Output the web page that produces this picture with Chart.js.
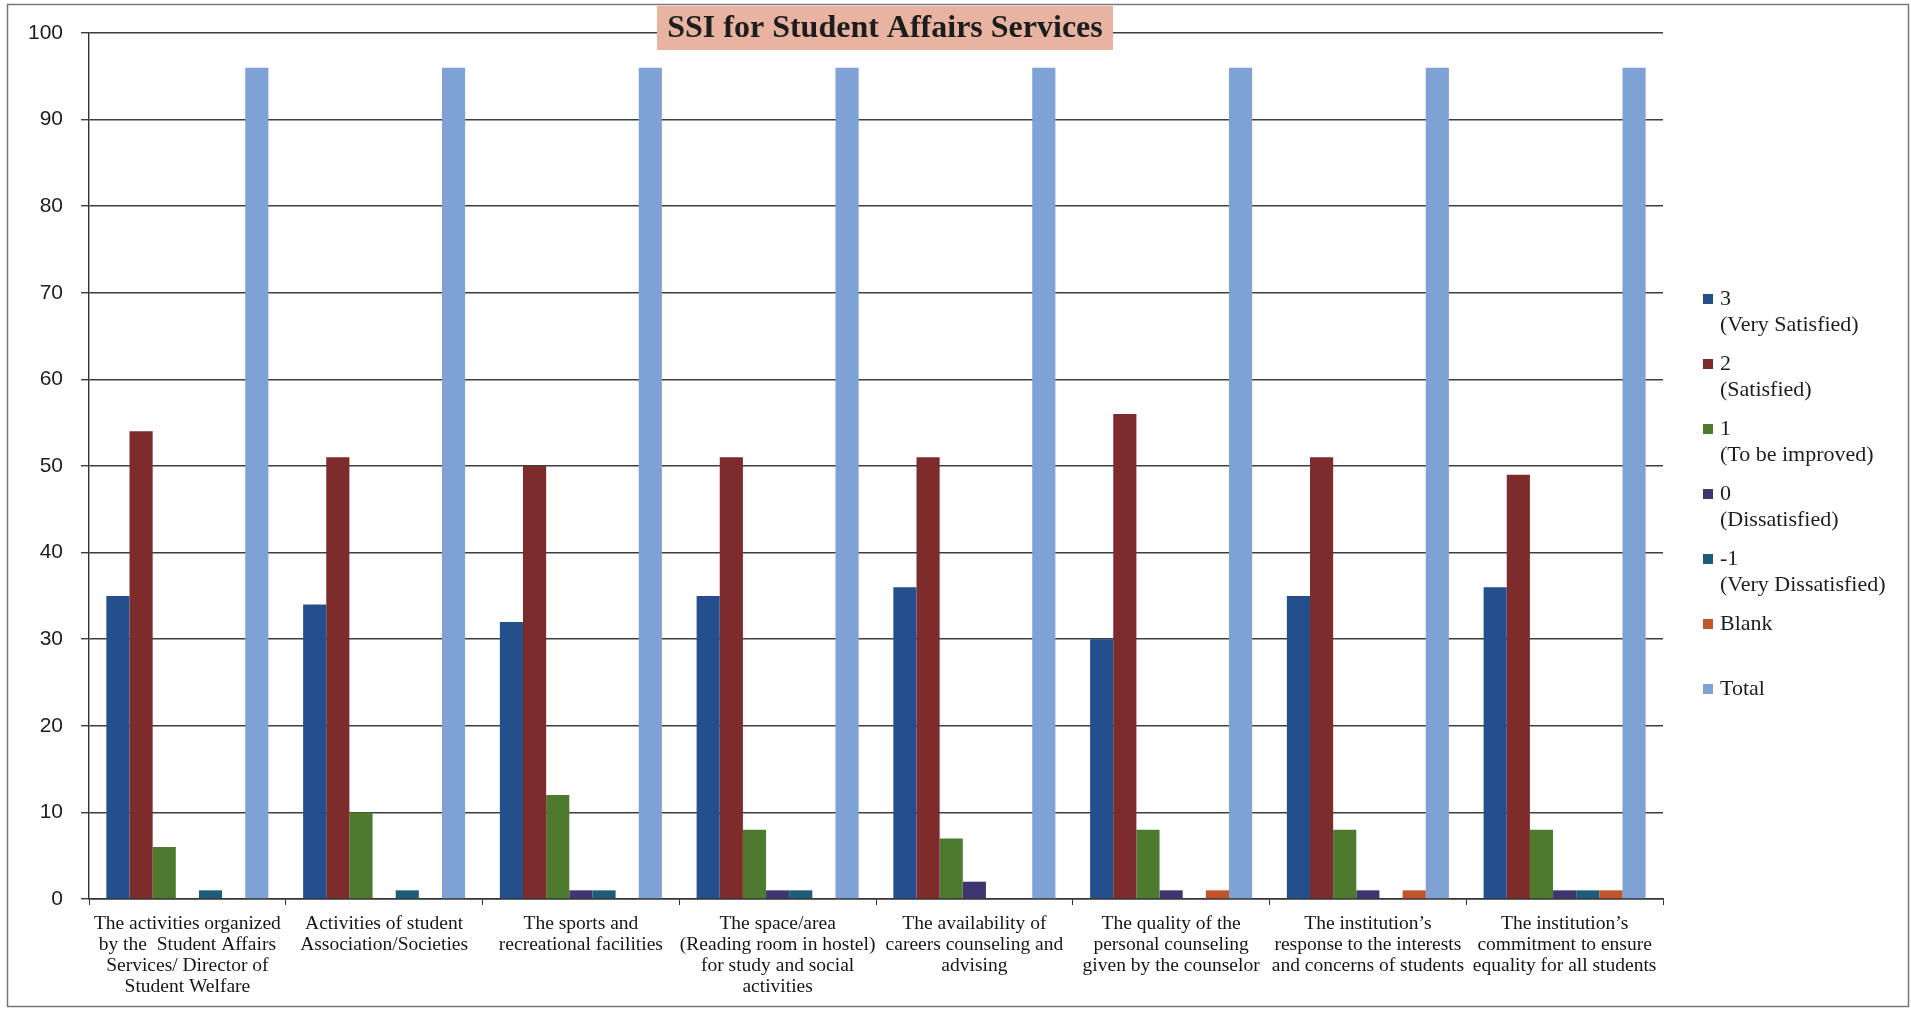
<!DOCTYPE html>
<html>
<head>
<meta charset="utf-8">
<title>SSI for Student Affairs Services</title>
<script src="https://cdn.jsdelivr.net/npm/chart.js@4/dist/chart.umd.min.js"></script>
<style>
  html, body { margin: 0; padding: 0; background: #fff; }
  #wrap { width: 1911px; height: 1009px; }
</style>
</head>
<body>
<div id="wrap"><canvas id="ssi-chart" width="1911" height="1009"></canvas></div>
<script>
const chartTitle = 'SSI for Student Affairs Services';

const categories = [
    ['The activities organized', 'by the  Student Affairs', 'Services/ Director of', 'Student Welfare'],
    ['Activities of student', 'Association/Societies'],
    ['The sports and', 'recreational facilities'],
    ['The space/area', '(Reading room in hostel)', 'for study and social', 'activities'],
    ['The availability of', 'careers counseling and', 'advising'],
    ['The quality of the', 'personal counseling', 'given by the counselor'],
    ['The institution\u2019s', 'response to the interests', 'and concerns of students'],
    ['The institution\u2019s', 'commitment to ensure', 'equality for all students']
];

const seriesLabels = [
    ['3', '(Very Satisfied)'],
    ['2', '(Satisfied)'],
    ['1', '(To be improved)'],
    ['0', '(Dissatisfied)'],
    ['-1', '(Very Dissatisfied)'],
    ['Blank'],
    ['Total']
];

const verySatisfied    = [35, 34, 32, 35, 36, 30, 35, 36];
const satisfied        = [54, 51, 50, 51, 51, 56, 51, 49];
const toBeImproved     = [6, 10, 12, 8, 7, 8, 8, 8];
const dissatisfied     = [0, 0, 1, 1, 2, 1, 1, 1];
const veryDissatisfied = [1, 1, 1, 1, 0, 0, 0, 1];
const blank            = [0, 0, 0, 0, 0, 1, 1, 1];
const total            = [96, 96, 96, 96, 96, 96, 96, 96];

const yTicks = [0, 10, 20, 30, 40, 50, 60, 70, 80, 90, 100];

const colors = ['#244f8d', '#7d2b2b', '#4e7a2f', '#3d3670', '#1e5d78', '#c0552c', '#7ea2d6'];
const seriesValues = [verySatisfied, satisfied, toBeImproved, dissatisfied, veryDissatisfied, blank, total];

const SERIF = '"Liberation Serif", "Times New Roman", serif';
const SANS = '"Liberation Sans", Arial, sans-serif';

// frame, boxed title and the right-hand legend
const decorPlugin = {
    id: 'decor',
    afterDraw(chart) {
        const ctx = chart.ctx;
        ctx.save();
        ctx.strokeStyle = '#777';
        ctx.lineWidth = 1.5;
        ctx.strokeRect(7.5, 4.5, 1901, 1002);

        // title box
        ctx.fillStyle = '#e8b3a1';
        ctx.fillRect(657, 6, 456, 44);
        ctx.fillStyle = '#1d1d1d';
        ctx.font = 'bold 32px ' + SERIF;
        ctx.textAlign = 'center';
        ctx.textBaseline = 'middle';
        ctx.fillText(chartTitle, 885, 29);

        // legend
        ctx.textAlign = 'left';
        ctx.font = '22px ' + SERIF;
        chart.data.datasets.forEach((ds, i) => {
            const y = 299 + i * 65;
            ctx.fillStyle = ds.backgroundColor;
            ctx.fillRect(1703, y - 5, 10, 10);
            ctx.fillStyle = '#1d1d1d';
            ds.legendLines.forEach((line, j) => {
                ctx.fillText(line, 1720, y + j * 26);
            });
        });
        ctx.restore();
    }
};

new Chart(document.getElementById('ssi-chart'), {
    type: 'bar',
    data: {
        labels: categories,
        datasets: seriesValues.map((vals, i) => ({
            label: seriesLabels[i].join(' '),
            legendLines: seriesLabels[i],
            data: vals,
            backgroundColor: colors[i],
            borderWidth: 0,
            categoryPercentage: 7 / 8.5,
            barPercentage: 1
        }))
    },
    options: {
        responsive: false,
        animation: false,
        devicePixelRatio: 1,
        layout: { padding: { left: 0, top: 33, right: 248, bottom: 0 } },
        plugins: {
            legend: { display: false },
            title: { display: false },
            tooltip: { enabled: false }
        },
        scales: {
            x: {
                afterFit(scale) { scale.height = 110; },
                grid: {
                    display: true,
                    drawOnChartArea: false,
                    offset: true,
                    tickLength: 6,
                    color: '#333'
                },
                border: { display: true, color: '#333', width: 1.4 },
                ticks: {
                    autoSkip: false,
                    maxRotation: 0,
                    minRotation: 0,
                    padding: 8,
                    color: '#151515',
                    font: { family: SERIF, size: 19.5, lineHeight: '21px' }
                }
            },
            y: {
                min: 0,
                max: 100,
                afterFit(scale) { scale.width = 89; },
                afterBuildTicks(scale) { scale.ticks = yTicks.map(v => ({ value: v })); },
                grid: {
                    color: '#3e3e3e',
                    lineWidth: 1.4,
                    tickLength: 8
                },
                border: { display: true, color: '#333', width: 1.4 },
                ticks: {
                    padding: 18,
                    color: '#1d1d1d',
                    font: { family: SANS, size: 21 }
                }
            }
        }
    },
    plugins: [decorPlugin]
});
</script>
</body>
</html>
